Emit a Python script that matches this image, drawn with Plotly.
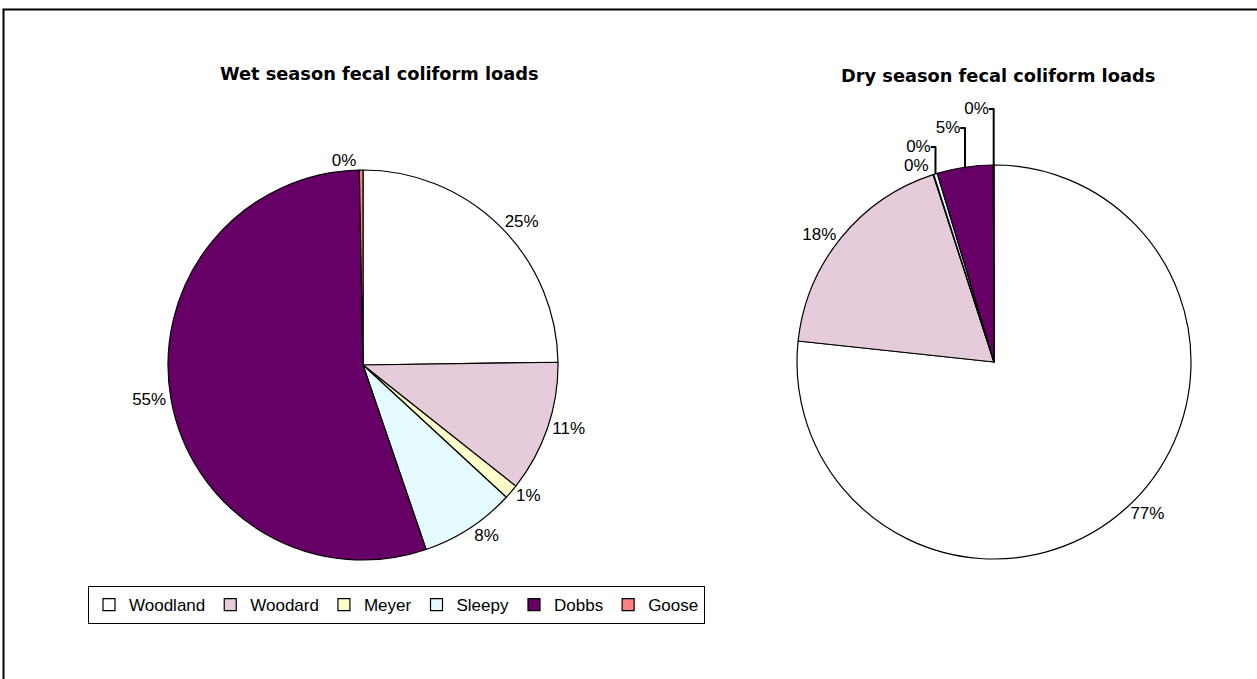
import plotly.graph_objects as go

categories = ["Woodland", "Woodard", "Meyer", "Sleepy", "Dobbs", "Goose"]
wet_values = [24.8, 10.9, 1.2, 7.9, 55.0, 0.3]
dry_values = [76.7, 18.3, 0.05, 0.3, 4.6, 0.05]
colors = ["#FFFFFF", "#E6CCDA", "#FFFFCC", "#E4FBFF", "#660066", "#FF8080"]

W, H = 1257, 679
FONT = "Liberation Sans, Arial, sans-serif"
TFONT = "DejaVu Sans, Liberation Sans, sans-serif"

def dom(cx, cy, r):
    return dict(x=[(cx - r) / W, (cx + r) / W], y=[1 - (cy + r) / H, 1 - (cy - r) / H])

fig = go.Figure()
for vals, d, name in [(wet_values, dom(363, 365, 195), "Wet"), (dry_values, dom(994, 362, 197), "Dry")]:
    fig.add_trace(go.Pie(
        labels=categories, values=vals, name=name, sort=False, direction="clockwise",
        rotation=0, domain=d, textposition="outside", texttemplate="%{percent:.0%}",
        marker=dict(colors=colors, line=dict(color="#000000", width=1.2)),
        outsidetextfont=dict(family=FONT, size=17, color="#000000"),
        hoverinfo="label+percent",
    ))

fig.update_layout(
    width=W, height=H, paper_bgcolor="white", plot_bgcolor="white",
    margin=dict(l=0, r=0, t=0, b=0),
    font=dict(family=FONT, size=16, color="#000000"),
    showlegend=True,
    legend=dict(orientation="h", x=88 / W, y=1 - 586 / H, xanchor="left", yanchor="top",
                bordercolor="#000000", borderwidth=1, bgcolor="white",
                font=dict(family=FONT, size=17), traceorder="normal",
                itemwidth=30, entrywidthmode="pixels"),
    annotations=[
        dict(text="<b>Wet season fecal coliform loads</b>", x=379 / W, y=1 - 73 / H, xref="paper", yref="paper",
             showarrow=False, font=dict(family=TFONT, size=17.8), xanchor="center", yanchor="middle"),
        dict(text="<b>Dry season fecal coliform loads</b>", x=998 / W, y=1 - 75 / H, xref="paper", yref="paper",
             showarrow=False, font=dict(family=TFONT, size=17.8), xanchor="center", yanchor="middle"),
    ],
    shapes=[dict(type="rect", xref="paper", yref="paper", x0=3.5 / W, x1=1.02, y0=-0.02, y1=1 - 9.5 / H,
                 line=dict(color="#000000", width=2), fillcolor="rgba(0,0,0,0)")],
)

fig.write_html("out.html", config={"displayModeBar": False},
               post_script="document.body.style.margin='0';document.body.style.padding='0';")
